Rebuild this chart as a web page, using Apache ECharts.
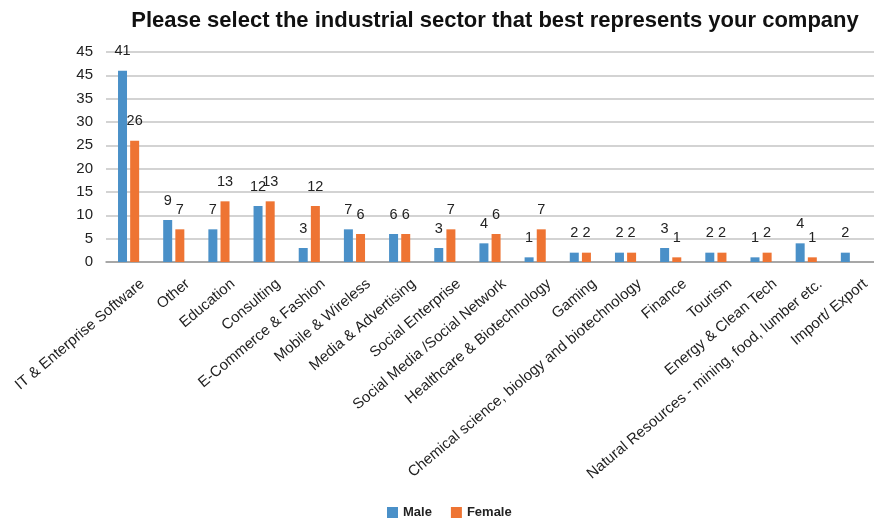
<!DOCTYPE html>
<html>
<head>
<meta charset="utf-8">
<script src="https://cdn.jsdelivr.net/npm/echarts@6/dist/echarts.min.js"></script>
<style>
  html, body { margin: 0; padding: 0; background: #fff; }
  #chart { width: 874px; height: 524px; }
</style>
</head>
<body>
<div id="chart"></div>
<script>
// Industrial sectors, in display order
const sectors = [
  'IT & Enterprise Software', 'Other', 'Education', 'Consulting',
  'E-Commerce & Fashion', 'Mobile & Wireless', 'Media & Advertising',
  'Social Enterprise', 'Social Media /Social Network', 'Healthcare & Biotechnology',
  'Gaming', 'Chemical science, biology and biotechnology', 'Finance', 'Tourism',
  'Energy & Clean Tech', 'Natural Resources - mining, food, lumber etc.', 'Import/ Export'
];

// Respondent counts per sector
const male   = [41, 9, 7, 12, 3, 7, 6, 3, 4, 1, 2, 2, 3, 2, 1, 4, 2];
const female = [26, 7, 13, 13, 12, 6, 6, 7, 6, 7, 2, 2, 1, 2, 2, 1, null];

// Value-axis tick labels, bottom to top
const yTickLabels = ['0', '5', '10', '15', '20', '25', '30', '35', '45', '45'];

const FONT = '"Liberation Sans", Arial, Helvetica, sans-serif';

const chart = echarts.init(document.getElementById('chart'), null, { renderer: 'canvas' });

const barLabel = {
  show: true,
  position: 'top',
  distance: 12,
  color: '#222',
  fontSize: 14.5,
  fontFamily: FONT
};

chart.setOption({
  animation: false,
  backgroundColor: '#fff',
  color: ['#4a90c8', '#ee7433'],
  title: {
    text: 'Please select the industrial sector that best represents your company',
    left: 490,
    textAlign: 'center',
    top: 5,
    textStyle: { fontFamily: FONT, fontWeight: 'bold', fontSize: 22, color: '#111' }
  },
  legend: {
    bottom: 0,
    left: 382,
    itemWidth: 11,
    itemHeight: 11,
    itemGap: 19,
    icon: 'rect',
    textStyle: { fontFamily: FONT, fontWeight: 'bold', fontSize: 13, color: '#222' },
    data: ['Male', 'Female']
  },
  grid: { left: 106, right: 0, top: 52, bottom: 262, containLabel: false },
  xAxis: {
    type: 'category',
    data: sectors,
    axisTick: { show: false },
    axisLine: { lineStyle: { color: '#999', width: 1.5 } },
    axisLabel: {
      interval: 0,
      rotate: 40,
      margin: 22,
      align: 'right',
      verticalAlign: 'top',
      padding: [0, -12, 0, 0],
      fontFamily: FONT,
      fontSize: 15,
      color: '#222'
    }
  },
  yAxis: {
    type: 'value',
    min: 0,
    max: 45,
    interval: 5,
    axisLine: { show: false },
    axisTick: { show: false },
    splitLine: { lineStyle: { color: '#c4c4c4', width: 1.5 } },
    axisLabel: {
      margin: 13,
      fontFamily: FONT,
      fontSize: 15,
      color: '#222',
      formatter: (v) => yTickLabels[Math.round(v / 5)]
    }
  },
  series: [
    { name: 'Male', type: 'bar', data: male, barWidth: 9, barGap: '35%', label: barLabel },
    { name: 'Female', type: 'bar', data: female, barWidth: 9, barGap: '35%', label: barLabel }
  ]
});
</script>
</body>
</html>
